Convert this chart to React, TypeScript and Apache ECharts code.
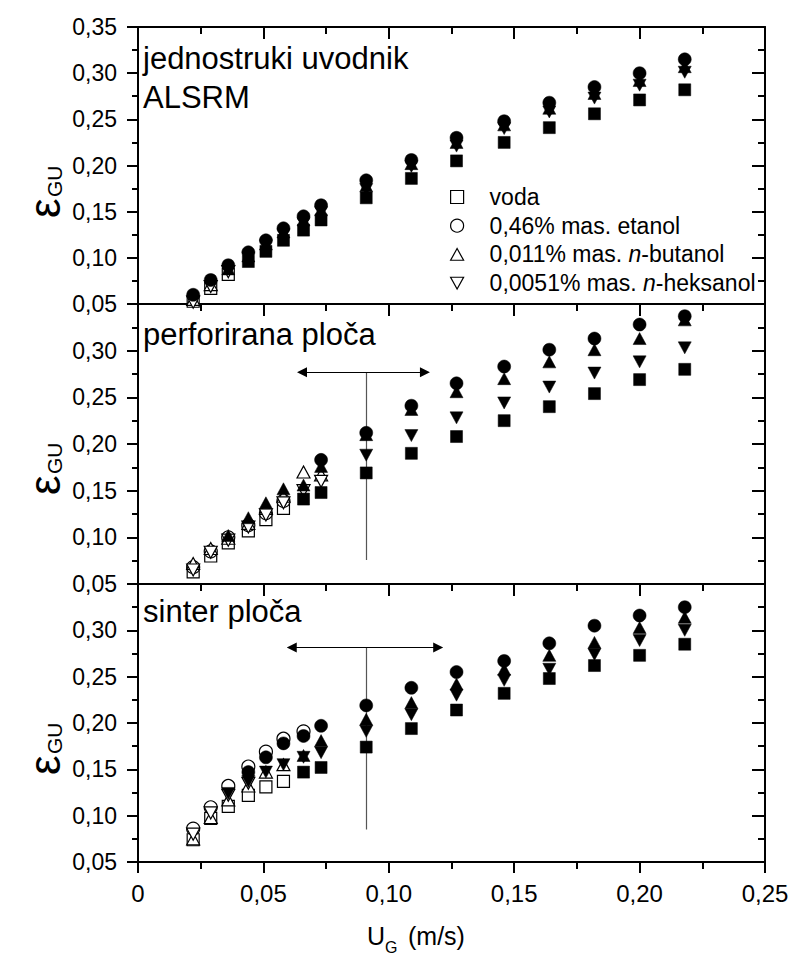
import React, { useEffect, useRef } from 'react';
import * as echarts from 'echarts';

const N = null;

// Superficial gas velocity U_G (m/s)
const UG = [0.022, 0.029, 0.036, 0.044, 0.051, 0.058, 0.066, 0.073, 0.091, 0.109, 0.127, 0.146, 0.164, 0.182, 0.2, 0.218];

const legendNames = ['voda', '0,46% mas. etanol', '0,011% mas. n-butanol', '0,0051% mas. n-heksanol'];
const panelTitles = [['jednostruki uvodnik', 'ALSRM'], ['perforirana ploča'], ['sinter ploča']];
const xTickLabels = ['0', '0,05', '0,10', '0,15', '0,20', '0,25'];

// Panel 1: jednostruki uvodnik ALSRM (open = hollow markers, fill = solid markers)
const vodaOpen1 = [0.053, 0.067, 0.082, N, N, N, N, N, N, N, N, N, N, N, N, N];
const vodaFill1 = [N, N, N, 0.096, 0.107, 0.119, 0.13, 0.141, 0.165, 0.186, 0.205, 0.225, 0.241, 0.256, 0.271, 0.282];
const etanolOpen1 = [N, N, N, N, N, N, N, N, N, N, N, N, N, N, N, N];
const etanolFill1 = [0.06, 0.076, 0.092, 0.106, 0.119, 0.132, 0.145, 0.157, 0.184, 0.206, 0.23, 0.248, 0.268, 0.285, 0.3, 0.315];
const butOpen1 = [0.055, 0.071, N, N, N, N, N, N, N, N, N, N, N, N, N, N];
const butFill1 = [N, N, 0.088, 0.102, 0.115, 0.128, 0.141, 0.152, 0.178, 0.202, 0.225, 0.244, 0.262, 0.278, 0.292, 0.307];
const heksOpen1 = [0.052, 0.069, 0.085, N, N, N, N, N, N, N, N, N, N, N, N, N];
const heksFill1 = [N, N, N, 0.1, 0.113, 0.125, 0.137, 0.149, 0.174, 0.199, 0.221, 0.24, 0.258, 0.273, 0.287, 0.301];

// Panel 2: perforirana ploča
const vodaOpen2 = [0.063, 0.08, 0.094, 0.107, 0.119, 0.131, N, N, N, N, N, N, N, N, N, N];
const vodaFill2 = [N, N, N, N, N, N, 0.141, 0.148, 0.169, 0.19, 0.208, 0.225, 0.24, 0.254, 0.269, 0.28];
const etanolOpen2 = [0.068, 0.085, 0.1, 0.113, 0.126, 0.139, N, N, N, N, N, N, N, N, N, N];
const etanolFill2 = [N, N, N, N, N, N, N, 0.183, 0.212, 0.241, 0.265, 0.283, 0.301, 0.313, 0.328, 0.337];
const butOpen2 = [0.072, 0.088, 0.099, 0.115, 0.131, 0.144, 0.17, 0.167, N, N, N, N, N, N, N, N];
const butFill2 = [N, N, 0.102, 0.121, 0.137, 0.152, 0.156, 0.176, 0.21, 0.237, 0.256, 0.27, 0.288, 0.301, 0.313, 0.333];
const heksOpen2 = [0.065, 0.084, 0.097, 0.111, 0.124, 0.137, 0.15, 0.16, N, N, N, N, N, N, N, N];
const heksFill2 = [N, N, N, N, N, N, N, N, 0.188, 0.209, 0.228, 0.244, 0.261, 0.276, 0.288, 0.303];

// Panel 3: sinter ploča
const vodaOpen3 = [0.074, 0.097, 0.11, 0.122, 0.131, 0.137, N, N, N, N, N, N, N, N, N, N];
const vodaFill3 = [N, N, N, N, N, N, 0.147, 0.152, 0.174, 0.194, 0.214, 0.232, 0.248, 0.262, 0.273, 0.285];
const etanolOpen3 = [0.086, 0.109, 0.132, 0.153, 0.169, 0.183, 0.191, N, N, N, N, N, N, N, N, N];
const etanolFill3 = [N, N, N, 0.147, 0.163, 0.178, 0.186, 0.197, 0.219, 0.238, 0.255, 0.267, 0.286, 0.305, 0.316, 0.325];
const butOpen3 = [0.075, 0.098, 0.117, 0.132, 0.147, 0.155, N, N, N, N, N, N, N, N, N, N];
const butFill3 = [N, N, N, N, N, N, 0.165, 0.181, 0.204, 0.222, 0.242, 0.258, 0.273, 0.287, 0.303, 0.314];
const heksOpen3 = [0.08, 0.103, 0.122, 0.135, N, N, N, N, N, N, N, N, N, N, N, N];
const heksFill3 = [N, N, 0.124, 0.137, 0.147, 0.155, 0.163, 0.168, 0.191, 0.209, 0.23, 0.246, 0.258, 0.274, 0.289, 0.3];

// Regime-transition annotations (data coordinates)
const perfArrowX = [0.0654, 0.1144];
const perfArrowY = [0.277, 0.277];
const perfLineX = [0.091, 0.091];
const perfLineY = [0.277, 0.0757];
const sinterArrowX = [0.0613, 0.1197];
const sinterArrowY = [0.2815, 0.2815];
const sinterLineX = [0.091, 0.091];
const sinterLineY = [0.2815, 0.0852];

const FONT = 'Arial, "Liberation Sans", Helvetica, sans-serif';

const openSets = [
  [vodaOpen1, etanolOpen1, butOpen1, heksOpen1],
  [vodaOpen2, etanolOpen2, butOpen2, heksOpen2],
  [vodaOpen3, etanolOpen3, butOpen3, heksOpen3],
];
const fillSets = [
  [vodaFill1, etanolFill1, butFill1, heksFill1],
  [vodaFill2, etanolFill2, butFill2, heksFill2],
  [vodaFill3, etanolFill3, butFill3, heksFill3],
];

const symbolDefs: any[] = [
  { symbol: 'rect', size: 12 },
  { symbol: 'circle', size: 13 },
  { symbol: 'path://M5,0L10,9L0,9Z', size: [13, 12] },
  { symbol: 'path://M0,0L10,0L5,9Z', size: [13, 12] },
];

const grids = [
  { top: 27, height: 277 },
  { top: 304, height: 280 },
  { top: 584, height: 278 },
];

function pts(vals: (number | null)[]) {
  const out: number[][] = [];
  UG.forEach((x, i) => {
    const v = vals[i];
    if (v !== null && v !== undefined) out.push([x, v]);
  });
  return out;
}

const fmt = (v: number) => (Math.abs(v) < 1e-9 ? '0' : v.toFixed(2).replace('.', ','));

function buildOption(): any {
  const lineW = 2;
  const xAxis: any[] = [];
  const yAxis: any[] = [];
  grids.forEach((g, gi) => {
    xAxis.push({
      gridIndex: gi,
      type: 'value',
      min: 0,
      max: 0.25,
      interval: 0.05,
      position: 'bottom',
      axisLine: { show: true, onZero: false, lineStyle: { color: '#000', width: lineW } },
      axisTick: { show: true, inside: false, length: 11, lineStyle: { color: '#000', width: 2 } },
      minorTick: { show: true, splitNumber: 2, length: 7, lineStyle: { color: '#000', width: 2 } },
      splitLine: { show: false },
      axisLabel: {
        show: gi === 2,
        margin: 19,
        fontSize: 24,
        fontFamily: FONT,
        color: '#000',
        formatter: (v: number) => xTickLabels[Math.round(v / 0.05)] ?? fmt(v),
      },
    });
    xAxis.push({
      gridIndex: gi,
      type: 'value',
      min: 0,
      max: 0.25,
      interval: 0.05,
      position: 'top',
      axisLine: { show: true, onZero: false, lineStyle: { color: '#000', width: lineW } },
      axisTick: { show: true, inside: true, length: 12, lineStyle: { color: '#000', width: 2 } },
      minorTick: { show: true, splitNumber: 2, length: 7, lineStyle: { color: '#000', width: 2 } },
      splitLine: { show: false },
      axisLabel: { show: false },
    });
    yAxis.push({
      gridIndex: gi,
      type: 'value',
      min: 0.05,
      max: 0.35,
      interval: 0.05,
      position: 'left',
      axisLine: { show: true, onZero: false, lineStyle: { color: '#000', width: lineW } },
      axisTick: { show: true, inside: false, length: 11, lineStyle: { color: '#000', width: 2 } },
      minorTick: { show: true, splitNumber: 2, length: 6, lineStyle: { color: '#000', width: 2 } },
      splitLine: { show: false },
      axisLabel: {
        margin: 21,
        fontSize: 23,
        fontFamily: FONT,
        color: '#000',
        formatter: (v: number) => (gi > 0 && Math.abs(v - 0.35) < 1e-6 ? '' : fmt(v)),
      },
    });
    yAxis.push({
      gridIndex: gi,
      type: 'value',
      min: 0.05,
      max: 0.35,
      interval: 0.05,
      position: 'right',
      axisLine: { show: true, onZero: false, lineStyle: { color: '#000', width: lineW } },
      axisTick: { show: true, inside: true, length: 13, lineStyle: { color: '#000', width: 2 } },
      minorTick: { show: true, splitNumber: 2, length: 7, lineStyle: { color: '#000', width: 2 } },
      splitLine: { show: false },
      axisLabel: { show: false },
    });
  });

  const series: any[] = [];
  openSets.forEach((sets, p) => {
    sets.forEach((vals, s) => {
      const d = symbolDefs[s];
      series.push({
        type: 'scatter',
        name: legendNames[s],
        xAxisIndex: p * 2,
        yAxisIndex: p * 2,
        data: pts(vals),
        symbol: d.symbol,
        symbolSize: d.size,
        itemStyle: { color: '#fff', borderColor: '#000', borderWidth: 1.2, opacity: 1 },
        emphasis: { disabled: true },
        z: 2,
      });
    });
  });
  fillSets.forEach((sets, p) => {
    sets.forEach((vals, s) => {
      const d = symbolDefs[s];
      series.push({
        type: 'scatter',
        name: legendNames[s] + ' (puni)',
        xAxisIndex: p * 2,
        yAxisIndex: p * 2,
        data: pts(vals),
        symbol: d.symbol,
        symbolSize: d.size,
        itemStyle: { color: '#000', borderColor: '#000', borderWidth: 0.5, opacity: 1 },
        emphasis: { disabled: true },
        z: 3,
      });
    });
  });

  const arrows = [
    { p: 1, ax: perfArrowX, ay: perfArrowY, lx: perfLineX, ly: perfLineY },
    { p: 2, ax: sinterArrowX, ay: sinterArrowY, lx: sinterLineX, ly: sinterLineY },
  ];
  arrows.forEach((a) => {
    series.push({
      type: 'lines',
      coordinateSystem: 'cartesian2d',
      xAxisIndex: a.p * 2,
      yAxisIndex: a.p * 2,
      symbol: ['none', 'none'],
      lineStyle: { color: '#555', width: 1.2, opacity: 1, curveness: 0 },
      silent: true,
      z: 1,
      data: [{ coords: [[a.lx[0], a.ly[0]], [a.lx[1], a.ly[1]]] }],
    });
    series.push({
      type: 'lines',
      coordinateSystem: 'cartesian2d',
      xAxisIndex: a.p * 2,
      yAxisIndex: a.p * 2,
      symbol: ['triangle', 'triangle'],
      symbolSize: 10,
      lineStyle: { color: '#000', width: 1.2, opacity: 1, curveness: 0 },
      silent: true,
      z: 4,
      data: [{ coords: [[a.ax[0], a.ay[0]], [a.ax[1], a.ay[1]]] }],
    });
  });

  const graphic: any[] = [];
  const titleY = [[58.5, 97], [334], [611]];
  panelTitles.forEach((lines, p) => {
    lines.forEach((t, li) => {
      graphic.push({
        type: 'text',
        x: 143,
        y: titleY[p][li],
        silent: true,
        style: {
          text: t,
          fontSize: 31,
          fontFamily: FONT,
          fill: '#000',
          align: 'left',
          verticalAlign: 'middle',
          textAlign: 'left',
          textVerticalAlign: 'middle',
        },
      });
    });
  });
  grids.forEach((g) => {
    graphic.push({
      type: 'text',
      x: 44,
      y: g.top + 191,
      rotation: Math.PI / 2,
      silent: true,
      style: {
        text: 'ε',
        fontSize: 44,
        fontFamily: FONT,
        fill: '#000',
        align: 'left',
        verticalAlign: 'middle',
        textAlign: 'left',
        textVerticalAlign: 'middle',
      },
    });
    graphic.push({
      type: 'text',
      x: 54.5,
      y: g.top + 170,
      rotation: Math.PI / 2,
      silent: true,
      style: {
        text: 'GU',
        fontSize: 21,
        fontFamily: FONT,
        fill: '#000',
        align: 'left',
        verticalAlign: 'middle',
        textAlign: 'left',
        textVerticalAlign: 'middle',
      },
    });
  });
  const xName = [
    { t: 'U', x: 367, y: 936, s: 25 },
    { t: 'G', x: 385, y: 947, s: 16 },
    { t: '(m/s)', x: 408, y: 936, s: 25 },
  ];
  xName.forEach((n) => {
    graphic.push({
      type: 'text',
      x: n.x,
      y: n.y,
      silent: true,
      style: {
        text: n.t,
        fontSize: n.s,
        fontFamily: FONT,
        fill: '#000',
        align: 'left',
        verticalAlign: 'middle',
        textAlign: 'left',
        textVerticalAlign: 'middle',
      },
    });
  });

  return {
    animation: false,
    backgroundColor: '#fff',
    grid: grids.map((g) => ({ left: 138, width: 627, top: g.top, height: g.height, containLabel: false })),
    xAxis,
    yAxis,
    series,
    legend: {
      data: legendNames,
      orient: 'vertical',
      left: 450,
      top: 184,
      padding: 0,
      itemGap: 2.7,
      itemWidth: 13,
      itemHeight: 13,
      selectedMode: false,
      itemStyle: { borderWidth: 1.2 },
      formatter: (n: string) => n.replace('n-', '{i|n}-'),
      textStyle: {
        fontSize: 23,
        fontFamily: FONT,
        color: '#000',
        lineHeight: 26,
        padding: [0, 0, 0, 21],
        rich: {
          i: { fontStyle: 'italic', fontSize: 23, fontFamily: FONT, color: '#000', lineHeight: 26 },
        },
      },
    },
    graphic,
  };
}

export default function App() {
  const ref = useRef<HTMLDivElement>(null);
  useEffect(() => {
    if (!ref.current) return;
    const chart = echarts.init(ref.current, undefined, { renderer: 'svg' });
    chart.setOption(buildOption());
    return () => chart.dispose();
  }, []);
  return (
    <div
      ref={ref}
      style={{ position: 'absolute', left: 0, top: 0, width: 792, height: 958, background: '#fff' }}
    />
  );
}
